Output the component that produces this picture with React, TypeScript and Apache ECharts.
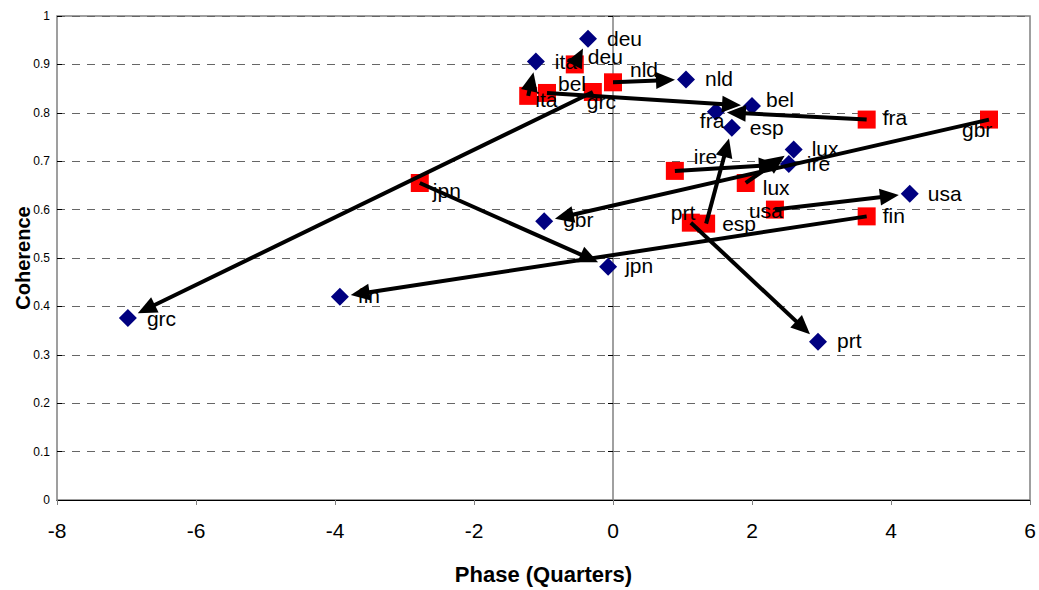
import React, { useEffect, useRef } from "react";
import * as echarts from "echarts";

const countries = ["deu", "ita", "bel", "grc", "nld", "fra", "gbr", "ire", "lux", "usa", "fin", "prt", "esp", "jpn"];
const phaseBefore = [-0.55, -1.22, -0.95, -0.29, 0.0, 3.65, 5.41, 0.89, 1.91, 2.33, 3.65, 1.12, 1.34, -2.78];
const coherenceBefore = [0.9, 0.835, 0.841, 0.843, 0.863, 0.786, 0.786, 0.68, 0.655, 0.6, 0.586, 0.573, 0.571, 0.655];
const phaseAfter = [-0.36, -1.11, 2.0, -6.98, 1.05, 1.48, -0.99, 2.53, 2.6, 4.27, -3.93, 2.95, 1.71, -0.07];
const coherenceAfter = [0.953, 0.906, 0.814, 0.376, 0.869, 0.802, 0.576, 0.694, 0.724, 0.633, 0.42, 0.327, 0.769, 0.482];

const xTicks = { min: -8, max: 6, interval: 2 };
const yTicks = { min: 0, max: 1, interval: 0.1 };

// label placement (pixel offsets from marker centre) - layout only
const labelOffsetBefore = [[13, -8], [7, 4], [11, -9], [-6, 10], [17, -13], [16, -2], [-27, 10], [19, -14], [17, 5], [-26, 1], [16, -1], [-20, -10], [16, 0], [13, 8]];
const labelOffsetAfter = [[19, 0], [19, 0], [14, -7], [19, 0], [19, -1], [-16, 9], [19, -2], [18, -1], [18, -1], [18, 0], [18, -1], [19, -1], [18, 0], [17, -1]];

const FONT = "'Liberation Sans', Arial, sans-serif";

export default function App() {
  const ref = useRef<HTMLDivElement>(null);
  useEffect(() => {
    if (!ref.current) return;
    const chart = echarts.init(ref.current, null, { renderer: "svg" });
    const mk = (xs: number[], ys: number[], offs: number[][], half: number) =>
      countries.map((c, i) => ({
        name: c,
        value: [xs[i], ys[i]],
        label: { offset: [offs[i][0] - half, offs[i][1]] },
      }));
    const arrows = countries.map((c, i) => [phaseBefore[i], coherenceBefore[i], phaseAfter[i], coherenceAfter[i]]);
    const labelBase = {
      show: true,
      position: "right",
      distance: 0,
      formatter: (p: any) => p.name,
      fontFamily: FONT,
      fontSize: 21,
      color: "#000",
    };
    const yBase = {
      type: "value",
      min: yTicks.min,
      max: yTicks.max,
      interval: yTicks.interval,
    };
    chart.setOption({
      animation: false,
      backgroundColor: "#fff",
      grid: { left: 57, right: 9, top: 16, bottom: 84, show: true, borderColor: "#808080", borderWidth: 1.5 },
      xAxis: {
        type: "value",
        min: xTicks.min,
        max: xTicks.max,
        interval: xTicks.interval,
        name: "Phase (Quarters)",
        nameLocation: "middle",
        nameGap: 63,
        nameTextStyle: { fontFamily: FONT, fontSize: 22, fontWeight: "bold", color: "#000" },
        axisLine: { show: true, onZero: false, lineStyle: { color: "#000", width: 1 } },
        axisTick: { show: true, length: 5, lineStyle: { color: "#808080" } },
        axisLabel: { fontFamily: FONT, fontSize: 21, color: "#000", margin: 20 },
        splitLine: { show: false },
      },
      yAxis: [
        {
          ...yBase,
          axisLine: { show: true, onZero: true, lineStyle: { color: "#808080", width: 1.5 } },
          axisTick: { show: true, length: 5, lineStyle: { color: "#000" } },
          axisLabel: {
            fontFamily: FONT,
            fontSize: 12,
            color: "#000",
            margin: 7,
            formatter: (v: number) => String(Math.round(v * 10) / 10),
          },
          splitLine: { show: true, lineStyle: { color: "#666", type: [8, 7], width: 1 } },
        },
        {
          ...yBase,
          position: "left",
          axisLine: { show: false, onZero: true },
          axisTick: { show: true, inside: true, length: 5, lineStyle: { color: "#000" } },
          axisLabel: { show: false },
          splitLine: { show: false },
        },
      ],
      graphic: [
        {
          type: "text",
          x: 23,
          y: 258,
          rotation: Math.PI / 2,
          style: {
            text: "Coherence",
            fontFamily: FONT,
            fontSize: 20,
            fontWeight: "bold",
            fill: "#000",
            align: "center",
            verticalAlign: "middle",
          },
        },
      ],
      series: [
        {
          type: "scatter",
          name: "before",
          symbol: "rect",
          symbolSize: 18,
          itemStyle: { color: "#ff0000", opacity: 1 },
          data: mk(phaseBefore, coherenceBefore, labelOffsetBefore, 9),
          label: labelBase,
          z: 2,
        },
        {
          type: "scatter",
          name: "after",
          symbol: "diamond",
          symbolSize: 18,
          itemStyle: { color: "#000080", opacity: 1 },
          data: mk(phaseAfter, coherenceAfter, labelOffsetAfter, 9),
          label: labelBase,
          z: 2,
        },
        {
          type: "custom",
          name: "shift",
          z: 3,
          clip: false,
          encode: { x: [0, 2], y: [1, 3] },
          data: arrows,
          renderItem: (params: any, api: any) => {
            const p1 = api.coord([api.value(0), api.value(1)]);
            const p2 = api.coord([api.value(2), api.value(3)]);
            const dx = p2[0] - p1[0];
            const dy = p2[1] - p1[1];
            const len = Math.hypot(dx, dy) || 1;
            const ux = dx / len;
            const uy = dy / len;
            const trimEnd = 11;
            const headLen = 19;
            const hw = 8.5;
            const tip = [p2[0] - ux * trimEnd, p2[1] - uy * trimEnd];
            const base = [tip[0] - ux * headLen, tip[1] - uy * headLen];
            const nx = -uy;
            const ny = ux;
            return {
              type: "group",
              children: [
                {
                  type: "line",
                  shape: { x1: p1[0], y1: p1[1], x2: base[0] + ux * 2, y2: base[1] + uy * 2 },
                  style: { stroke: "#000", lineWidth: 4 },
                },
                {
                  type: "polygon",
                  shape: {
                    points: [
                      tip,
                      [base[0] + nx * hw, base[1] + ny * hw],
                      [base[0] - nx * hw, base[1] - ny * hw],
                    ],
                  },
                  style: { fill: "#000" },
                },
              ],
            };
          },
        },
      ],
    });
    return () => chart.dispose();
  }, []);
  return <div ref={ref} style={{ position: "fixed", left: 0, top: 0, width: 1039, height: 590 }} />;
}
